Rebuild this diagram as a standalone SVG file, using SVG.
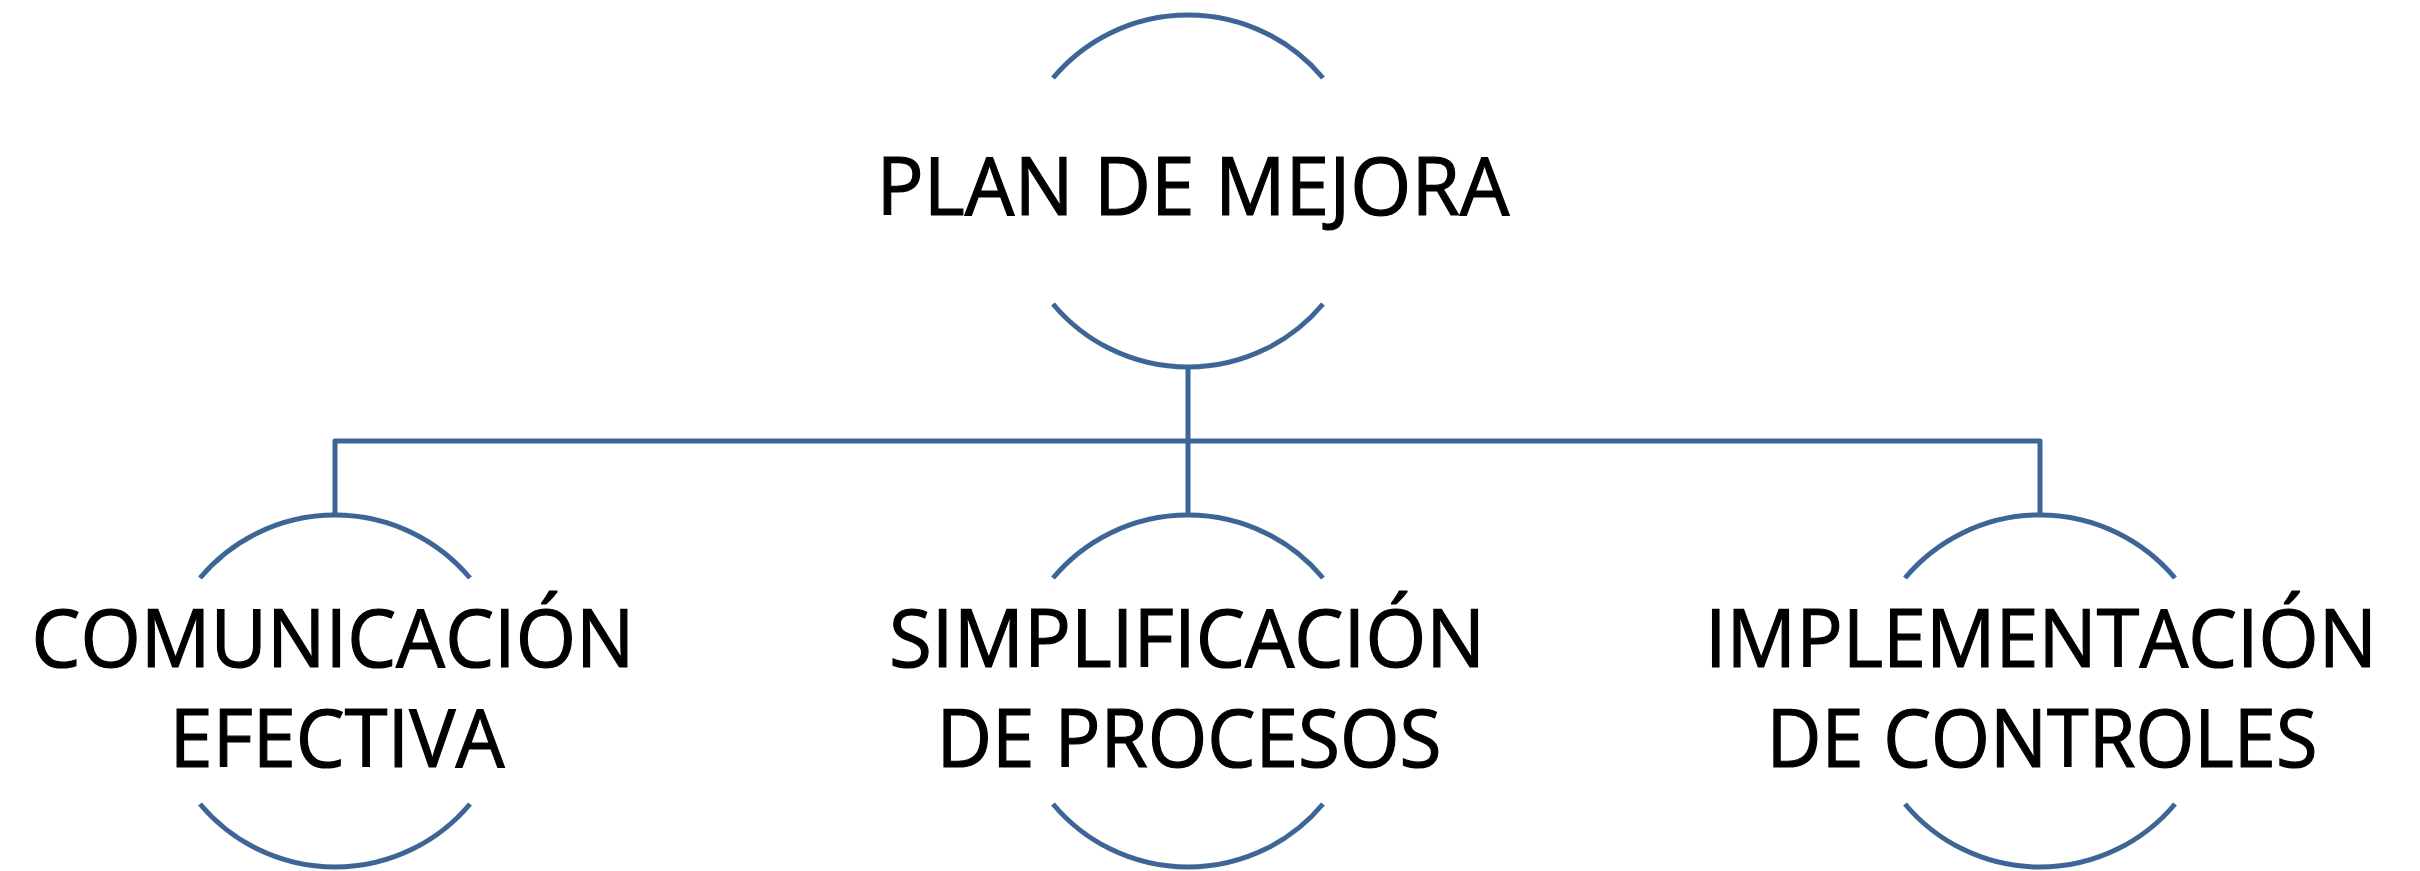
<svg xmlns="http://www.w3.org/2000/svg" width="2420" height="871" viewBox="0 0 2420 871">
<style>
.arc{fill:none;stroke:#3D6697;stroke-width:5}
.conn{fill:none;stroke:#3D6697;stroke-width:5;stroke-linejoin:round}
.t{font-family:"Open Sans","Noto Sans","Liberation Sans",sans-serif;font-size:80px;fill:#000;stroke:#000;stroke-width:1.2;text-anchor:middle}
</style>
<rect width="2420" height="871" fill="#fff"/>
<g id="connectors">
<path class="conn" d="M1188 367 V441"/>
<path class="conn" d="M335 515 V441 H2040 V515"/>
<path class="conn" d="M1188 441 V515"/>
</g>
<g id="plan">
<path class="arc" d="M1053 78 A176 176 0 0 1 1323 78"/>
<path class="arc" d="M1053 304 A176 176 0 0 0 1323 304"/>
<text class="t" x="1193" y="215" textLength="633" lengthAdjust="spacingAndGlyphs">PLAN DE MEJORA</text>
</g>
<g id="comunicacion">
<path class="arc" d="M200 578 A176 176 0 0 1 470 578"/>
<path class="arc" d="M200 804 A176 176 0 0 0 470 804"/>
<text class="t" x="333" y="667" textLength="603" lengthAdjust="spacingAndGlyphs">COMUNICACIÓN</text>
<text class="t" x="337" y="767" textLength="335" lengthAdjust="spacingAndGlyphs">EFECTIVA</text>
</g>
<g id="simplificacion">
<path class="arc" d="M1053 578 A176 176 0 0 1 1323 578"/>
<path class="arc" d="M1053 804 A176 176 0 0 0 1323 804"/>
<text class="t" x="1187" y="667" textLength="596" lengthAdjust="spacingAndGlyphs">SIMPLIFICACIÓN</text>
<text class="t" x="1189" y="767" textLength="505" lengthAdjust="spacingAndGlyphs">DE PROCESOS</text>
</g>
<g id="implementacion">
<path class="arc" d="M1905 578 A176 176 0 0 1 2175 578"/>
<path class="arc" d="M1905 804 A176 176 0 0 0 2175 804"/>
<text class="t" x="2041" y="667" textLength="672" lengthAdjust="spacingAndGlyphs">IMPLEMENTACIÓN</text>
<text class="t" x="2042" y="767" textLength="551" lengthAdjust="spacingAndGlyphs">DE CONTROLES</text>
</g>
</svg>
